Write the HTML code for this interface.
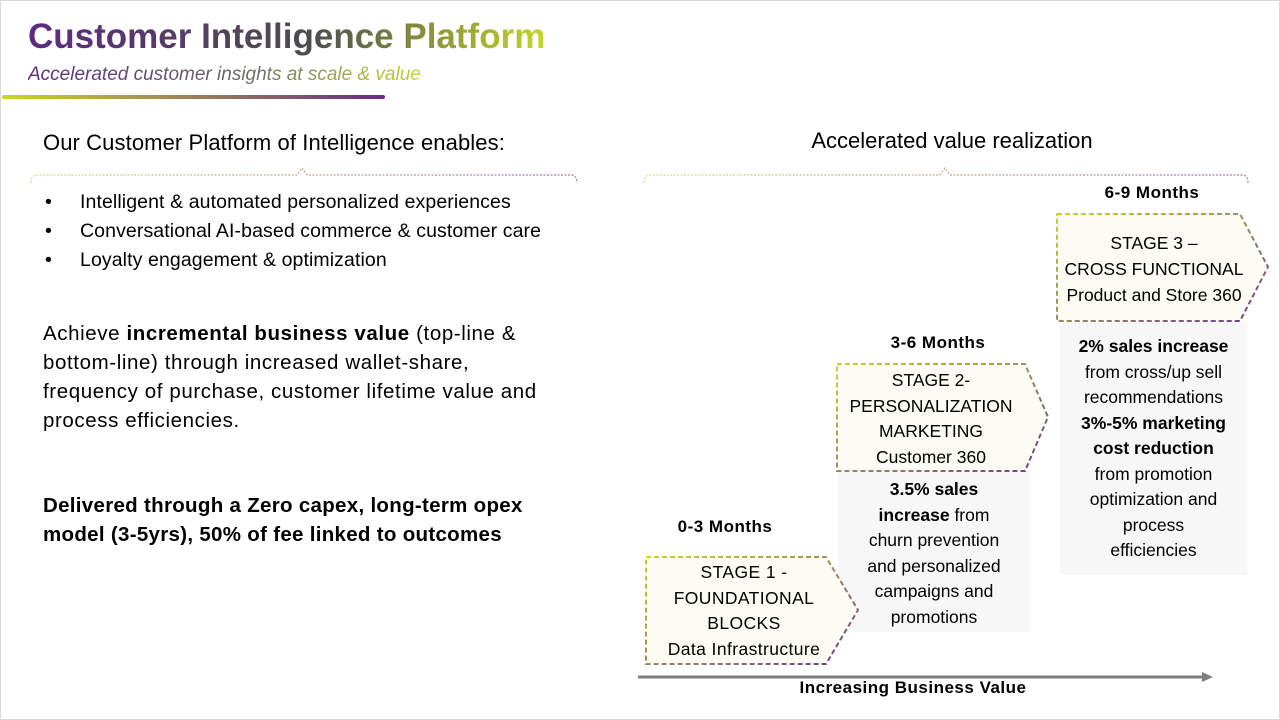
<!DOCTYPE html>
<html><head><meta charset="utf-8"><style>
body{margin:0;width:1280px;height:720px;overflow:hidden;background:#fff;font-family:"Liberation Sans",sans-serif}
#f{position:absolute;left:0;top:0;width:1278px;height:718px;border:1px solid #d9d9d9}
.t{position:absolute;white-space:nowrap;color:#000}
.c{text-align:center}
</style></head><body><div id="f"></div>
<svg width="1280" height="720" style="position:absolute;left:0;top:0">
<defs>
<linearGradient id="bar" x1="0" x2="1"><stop offset="0" stop-color="#c8d62a"/><stop offset="1" stop-color="#6a2c85"/></linearGradient>
<linearGradient id="br" x1="0" x2="1"><stop offset="0" stop-color="#d6e07a"/><stop offset="1" stop-color="#9a78b0"/></linearGradient>
<linearGradient id="pg" x1="0" y1="0" x2="1" y2="1"><stop offset="0" stop-color="#c6d42c"/><stop offset="0.5" stop-color="#9a8a60"/><stop offset="1" stop-color="#6c3b8a"/></linearGradient>
</defs>
<rect x="2" y="95" width="383" height="4" rx="2" fill="url(#bar)"/>
<path d="M31 183 Q31 175 37 175 L297 175 L302 168 L307 175 L571 175 Q577 175 577 183" fill="none" stroke="url(#br)" stroke-width="1.2" stroke-dasharray="2 1.5"/>
<path d="M644 183 Q644 175 650 175 L940 175 L945 168 L950 175 L1242 175 Q1248 175 1248 183" fill="none" stroke="url(#br)" stroke-width="1.2" stroke-dasharray="2 1.5"/>
<rect x="1060" y="322" width="187" height="253" fill="#f7f7f7"/>
<rect x="838" y="472" width="192" height="160" fill="#f7f7f7"/>
<path d="M1057 214 L1240 214 L1268 267 L1240 321 L1057 321 Z" fill="#fcfcf5" stroke="url(#pg)" stroke-width="2" stroke-dasharray="5 3"/>
<path d="M837 364 L1025 364 L1048 417 L1025 471 L837 471 Z" fill="#fcfcf5" stroke="url(#pg)" stroke-width="2" stroke-dasharray="5 3"/>
<path d="M646 557 L826 557 L858 610 L826 664 L646 664 Z" fill="#fcfcf5" stroke="url(#pg)" stroke-width="2" stroke-dasharray="5 3"/>
<line x1="638" y1="677" x2="1204" y2="677" stroke="#7f7f7f" stroke-width="3"/>
<path d="M1202 672 L1213 677 L1202 682 Z" fill="#7f7f7f"/>
</svg>
<div class="t" style="left:28px;top:16px;font-size:35px;font-weight:bold;line-height:42px;background:linear-gradient(90deg,#5e2a80,#4d4d4d 55%,#c5d62a);-webkit-background-clip:text;background-clip:text;color:transparent">Customer Intelligence Platform</div>
<div class="t" style="left:28px;top:63px;font-size:19px;font-style:italic;line-height:24px;background:linear-gradient(90deg,#5e2a80,#6b6b6b 55%,#c5d62a);-webkit-background-clip:text;background-clip:text;color:transparent">Accelerated customer insights at scale &amp; value</div>
<div class="t" style="left:43px;top:129px;font-size:22px;line-height:28px;letter-spacing:0.1px">Our Customer Platform of Intelligence enables:</div>
<div class="t" style="left:45px;top:188px;font-size:19.5px;line-height:29px;letter-spacing:0.1px">•<span style="position:absolute;left:35px">Intelligent &amp; automated personalized experiences</span><br>•<span style="position:absolute;left:35px">Conversational AI-based commerce &amp; customer care</span><br>•<span style="position:absolute;left:35px">Loyalty engagement &amp; optimization</span></div>
<div class="t" style="left:43px;top:319px;font-size:20.5px;line-height:29px;letter-spacing:0.6px">Achieve <b>incremental business value</b> (top-line &amp;<br>bottom-line) through increased wallet-share,<br>frequency of purchase, customer lifetime value and<br>process efficiencies.</div>
<div class="t" style="left:43px;top:491px;font-size:20.5px;line-height:29px;font-weight:bold;letter-spacing:0.3px">Delivered through a Zero capex, long-term opex<br>model (3-5yrs), 50% of fee linked to outcomes</div>
<div class="t c" style="left:752px;width:400px;top:127px;font-size:22px;line-height:28px;letter-spacing:0px">Accelerated value realization</div>
<div class="t c" style="left:1052px;width:200px;top:183px;font-size:17px;font-weight:bold;line-height:20px;letter-spacing:0.5px">6-9 Months</div>
<div class="t c" style="left:838px;width:200px;top:333px;font-size:17px;font-weight:bold;line-height:20px;letter-spacing:0.5px">3-6 Months</div>
<div class="t c" style="left:625px;width:200px;top:517px;font-size:17px;font-weight:bold;line-height:20px;letter-spacing:0.5px">0-3 Months</div>
<div class="t c" style="left:1054px;width:200px;top:230px;font-size:17.5px;line-height:26px">STAGE 3 –<br>CROSS FUNCTIONAL<br>Product and Store 360</div>
<div class="t c" style="left:838px;width:186px;top:368px;font-size:17.5px;line-height:25.5px">STAGE 2-<br>PERSONALIZATION<br>MARKETING<br>Customer 360</div>
<div class="t c" style="left:646px;width:196px;top:560px;font-size:17.5px;line-height:25.5px;letter-spacing:0.4px">STAGE 1 -<br>FOUNDATIONAL<br>BLOCKS<br>Data Infrastructure</div>
<div class="t c" style="left:1060px;width:187px;top:334px;font-size:17.5px;line-height:25.5px"><b>2% sales increase</b><br>from cross/up sell<br>recommendations<br><b>3%-5% marketing<br>cost reduction</b><br>from promotion<br>optimization and<br>process<br>efficiencies</div>
<div class="t c" style="left:838px;width:192px;top:477px;font-size:17.5px;line-height:25.5px"><b>3.5% sales<br>increase</b> from<br>churn prevention<br>and personalized<br>campaigns and<br>promotions</div>
<div class="t c" style="left:763px;width:300px;top:678px;font-size:17px;font-weight:bold;line-height:20px;letter-spacing:0.5px">Increasing Business Value</div>
</body></html>
